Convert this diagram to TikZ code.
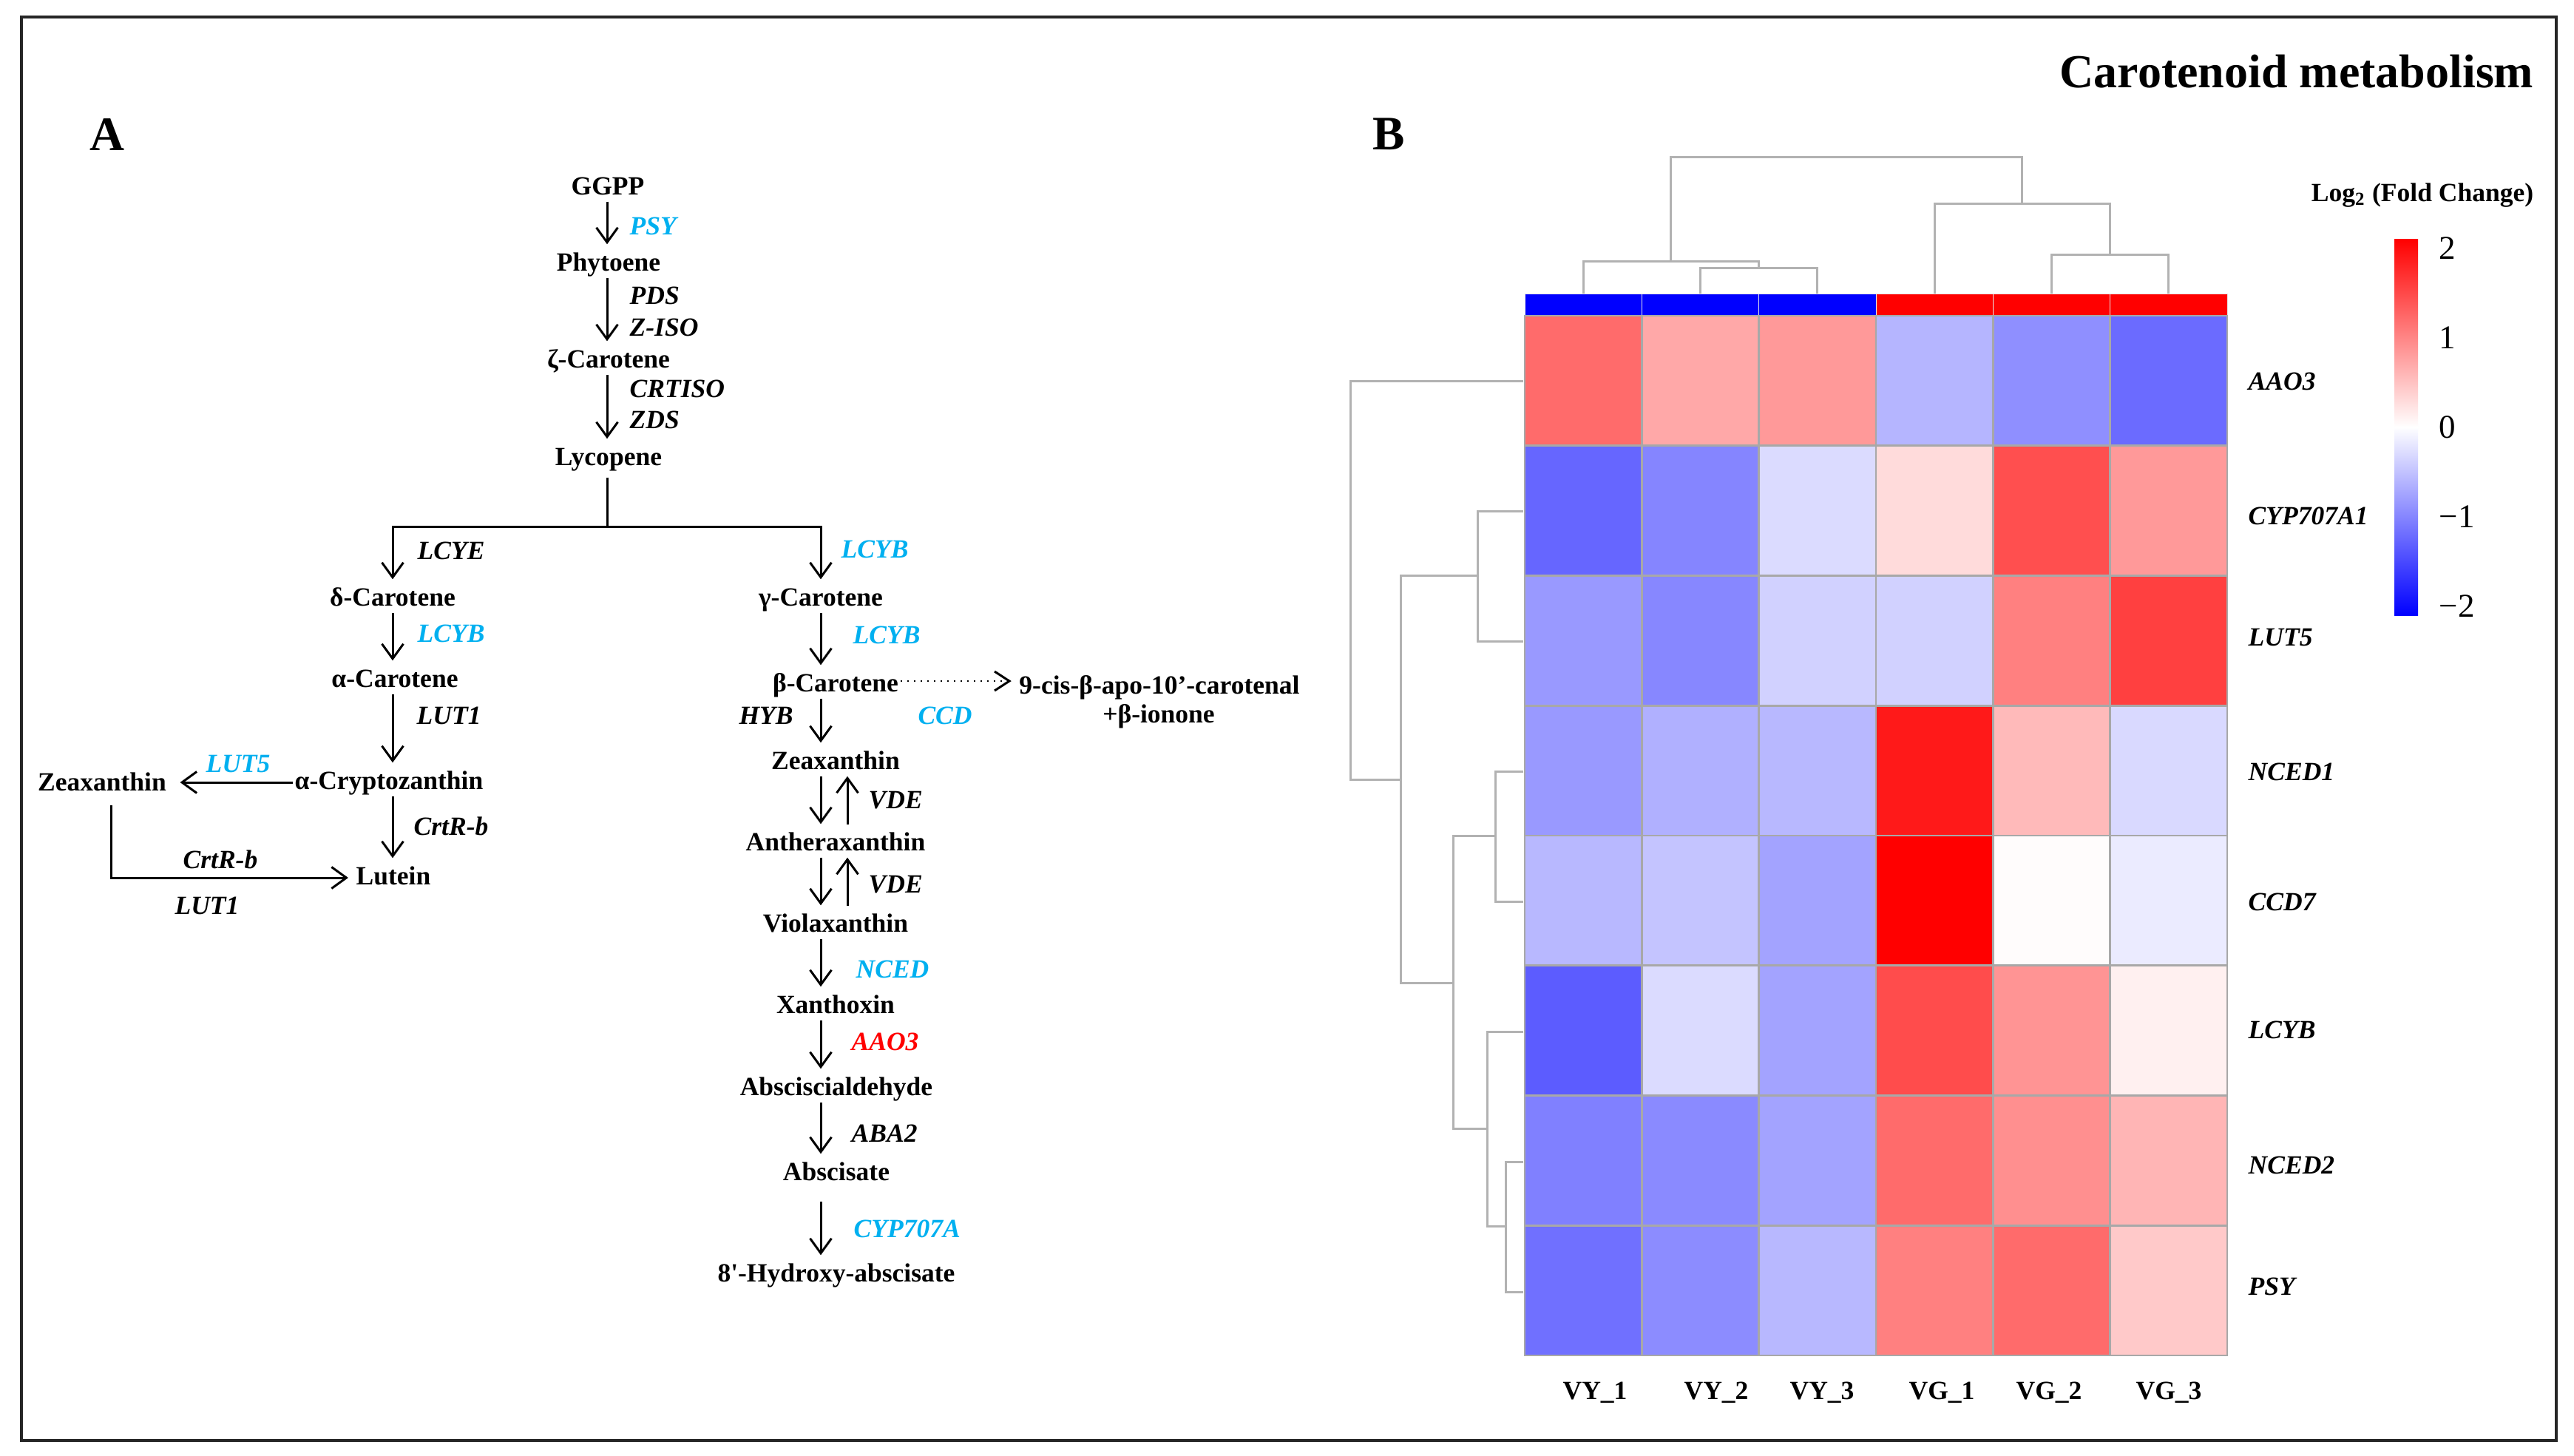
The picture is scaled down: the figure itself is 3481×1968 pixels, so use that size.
\documentclass[tikz,border=0pt]{standalone}
\usepackage{fontspec}
\setmainfont{Liberation Serif}
\usetikzlibrary{arrows.meta}
\definecolor{cyanG}{RGB}{0,176,240}
\definecolor{dendro}{RGB}{178,178,178}
\definecolor{hmgrid}{RGB}{168,168,168}
\newcommand{\metfont}{\fontsize{10.1}{12}\selectfont\bfseries}
\newcommand{\genefont}{\fontsize{10.1}{12}\selectfont\bfseries\itshape}
\begin{document}
\begin{tikzpicture}[x=0.01cm,y=-0.01cm,
  met/.style={font=\metfont, anchor=base, inner sep=0.02cm, text height=0.25cm, text depth=0.07cm},
  gene/.style={font=\genefont, anchor=base west, inner sep=0},
  genec/.style={font=\genefont, anchor=base, inner sep=0},
  arr/.style={draw, line width=0.03cm, shorten >=0.08cm, -{Straight Barb[length=0.2cm, width=0.29cm, line width=0.03cm]}},
  upar/.style={draw, line width=0.03cm, shorten <=0.07cm, -{Straight Barb[length=0.2cm, width=0.29cm, line width=0.03cm]}},
  dotarr/.style={draw, line width=0.02cm, dotted, shorten >=0.08cm, -{Straight Barb[length=0.2cm, width=0.26cm, line width=0.03cm, sep=0pt]}},
  plain/.style={draw, line width=0.03cm},
  dg/.style={draw=dendro, line width=0.03cm},
  collab/.style={font=\metfont, anchor=base, inner sep=0},
  rowlab/.style={font=\genefont, anchor=base west, inner sep=0},
  tick/.style={font=\fontsize{12.8}{14}\selectfont, anchor=west, inner sep=0}]
\useasboundingbox (0,0) rectangle (3481,1968);
\fill[white] (0,0) rectangle (3481,1968);
\draw[line width=0.04cm, black!85] (29,23) rectangle (3457,1948);

% panel labels and title
\node[font=\fontsize{18.5}{20}\selectfont\bfseries, anchor=base west, inner sep=0] (labA) at (121,203) {A};
\node[font=\fontsize{18.5}{20}\selectfont\bfseries, anchor=base west, inner sep=0] (labB) at (1856,202) {B};
\node[font=\fontsize{18.2}{20}\selectfont\bfseries, anchor=base east, inner sep=0] (title) at (3427,118) {Carotenoid metabolism};

% column positions
\coordinate (cA) at (821,0);
\coordinate (cL) at (531,0);
\coordinate (cR) at (1110,0);
\coordinate (cR2) at (1146,0);
\coordinate (cZ) at (150,0);
\coordinate (brM) at (821,712);

% metabolites
\node[met] (ggpp) at (822,263) {GGPP};
\node[met] (phy) at (823,366) {Phytoene};
\node[met] (zeta) at (823,497) {ζ-Carotene};
\node[met] (lyc) at (823,629) {Lycopene};
\node[met] (delta) at (531,819) {δ-Carotene};
\node[met] (alpha) at (534,929) {α-Carotene};
\node[met] (acry) at (526,1067) {α-Cryptozanthin};
\node[met] (zeaL) at (138,1069) {Zeaxanthin};
\node[met] (lut) at (532,1196) {Lutein};
\node[met] (gamma) at (1110,819) {γ-Carotene};
\node[met] (beta) at (1130,935) {β-Carotene};
\node[met] (apo) at (1568,938) {9-cis-β-apo-10’-carotenal};
\node[met] (ion) at (1567,977) {+β-ionone};
\node[met] (zeaR) at (1130,1040) {Zeaxanthin};
\node[met] (anth) at (1130,1150) {Antheraxanthin};
\node[met] (viola) at (1130,1260) {Violaxanthin};
\node[met] (xan) at (1130,1370) {Xanthoxin};
\node[met] (ald) at (1131,1481) {Absciscialdehyde};
\node[met] (absc) at (1131,1596) {Abscisate};
\node[met] (hyd) at (1131,1733) {8\textquotesingle-Hydroxy-abscisate};

% genes
\node[gene, text=cyanG] (gPSY) at (851,317) {PSY};
\node[gene] (gPDS) at (851,411) {PDS};
\node[gene] (gZISO) at (851,454) {Z-ISO};
\node[gene] (gCRTISO) at (851,537) {CRTISO};
\node[gene] (gZDS) at (851,579) {ZDS};
\node[gene] (gLCYE) at (564,756) {LCYE};
\node[gene, text=cyanG] (gLCYBa) at (564,868) {LCYB};
\node[gene] (gLUT1a) at (563,979) {LUT1};
\node[genec, text=cyanG] (gLUT5) at (322,1044) {LUT5};
\node[gene] (gCrtRa) at (559,1129) {CrtR-b};
\node[genec] (gCrtRb) at (298,1174) {CrtR-b};
\node[genec] (gLUT1b) at (280,1236) {LUT1};
\node[gene, text=cyanG] (gLCYBb) at (1137,754) {LCYB};
\node[gene, text=cyanG] (gLCYBc) at (1153,870) {LCYB};
\node[genec] (gHYB) at (1036,979) {HYB};
\node[genec, text=cyanG] (gCCD) at (1278,979) {CCD};
\node[gene] (gVDEa) at (1174,1093) {VDE};
\node[gene] (gVDEb) at (1174,1207) {VDE};
\node[gene, text=cyanG] (gNCED) at (1157,1322) {NCED};
\node[gene, text=red] (gAAO3) at (1151,1420) {AAO3};
\node[gene] (gABA2) at (1151,1544) {ABA2};
\node[gene, text=cyanG] (gCYP) at (1154,1673) {CYP707A};

% pathway connectors
\draw[arr] (ggpp.south -| cA) -- (phy.north -| cA);
\draw[arr] (phy.south -| cA) -- (zeta.north -| cA);
\draw[arr] (zeta.south -| cA) -- (lyc.north -| cA);
\draw[plain, shorten <=0.07cm] (lyc.south -| cA) -- (brM);
\draw[arr] (brM) -| (delta.north -| cL);
\draw[arr] (brM) -| (gamma.north -| cR);
\draw[arr] (delta.south -| cL) -- (alpha.north -| cL);
\draw[arr] (alpha.south -| cL) -- (acry.north -| cL);
\draw[arr] (acry.south -| cL) -- (lut.north -| cL);
\draw[arr, shorten >=0.16cm] (acry.west) -- (acry.west -| zeaL.east);
\draw[arr, shorten <=0.1cm] (zeaL.south -| cZ) |- (lut.west);
\draw[arr] (gamma.south -| cR) -- (beta.north -| cR);
\draw[dotarr] ([yshift=0.05cm]beta.east) -- ([yshift=0.05cm]beta.east -| apo.west);
\draw[arr] (beta.south -| cR) -- (zeaR.north -| cR);
\draw[arr] (zeaR.south -| cR) -- (anth.north -| cR);
\draw[upar] (anth.north -| cR2) -- (zeaR.south -| cR2);
\draw[arr] (anth.south -| cR) -- (viola.north -| cR);
\draw[upar] (viola.north -| cR2) -- (anth.south -| cR2);
\draw[arr] (viola.south -| cR) -- (xan.north -| cR);
\draw[arr] (xan.south -| cR) -- (ald.north -| cR);
\draw[arr] (ald.south -| cR) -- (absc.north -| cR);
\draw[arr, shorten <=0.19cm] (absc.south -| cR) -- (hyd.north -| cR);

% heatmap annotation bar
\foreach \cc [count=\ki from 0] in {blue,blue,blue,red,red,red}
  \filldraw[fill=\cc, draw=white!80!gray, line width=0.01cm] ({2062+\ki*158.33},397) rectangle ++(158.33,30);

% heatmap cells
\foreach \rowlist [count=\ri from 0] in {
 {red!58,red!34,red!40,blue!29,blue!44,blue!58},
 {blue!60,blue!48,blue!14,red!14,red!69,red!40},
 {blue!40,blue!47,blue!18,blue!18,red!50,red!75},
 {blue!40,blue!31,blue!28,red!90,red!27,blue!15},
 {blue!28,blue!23,blue!36,red!100,red!1,blue!8},
 {blue!64,blue!14,blue!36,red!70,red!42,red!6},
 {blue!50,blue!46,blue!36,red!58,red!44,red!29},
 {blue!56,blue!45,blue!28,red!50,red!58,red!21}}
{\foreach \cc [count=\ki from 0] in \rowlist {
  \filldraw[fill=\cc!white, draw=hmgrid, line width=0.028cm] ({2062+\ki*158.33},{427+\ri*175.75}) rectangle ++(158.33,175.75);
}}

% column dendrogram
\draw[dg] (2259,353) -- (2259,212) -- (2734,212) -- (2734,275);
\draw[dg] (2141,397) -- (2141,353) -- (2378,353) -- (2378,362);
\draw[dg] (2299,397) -- (2299,362) -- (2457,362) -- (2457,397);
\draw[dg] (2616,397) -- (2616,275) -- (2853,275) -- (2853,344);
\draw[dg] (2774,397) -- (2774,344) -- (2932,344) -- (2932,397);

% row dendrogram
\draw[dg] (2060,515) -- (1826,515) -- (1826,1054) -- (1894,1054);
\draw[dg] (1998,778) -- (1894,778) -- (1894,1329) -- (1965,1329);
\draw[dg] (2060,691) -- (1998,691) -- (1998,867) -- (2060,867);
\draw[dg] (2022,1130) -- (1965,1130) -- (1965,1526) -- (2011,1526);
\draw[dg] (2060,1043) -- (2022,1043) -- (2022,1219) -- (2060,1219);
\draw[dg] (2060,1395) -- (2011,1395) -- (2011,1658) -- (2036,1658);
\draw[dg] (2060,1571) -- (2036,1571) -- (2036,1747) -- (2060,1747);

% row labels
\node[rowlab] (rAAO3) at (3040,527) {AAO3};
\node[rowlab] (rCYP) at (3040,709) {CYP707A1};
\node[rowlab] (rLUT5) at (3040,873) {LUT5};
\node[rowlab] (rNCED1) at (3040,1055) {NCED1};
\node[rowlab] (rCCD7) at (3040,1231) {CCD7};
\node[rowlab] (rLCYB) at (3040,1404) {LCYB};
\node[rowlab] (rNCED2) at (3040,1587) {NCED2};
\node[rowlab] (rPSY) at (3040,1751) {PSY};

% column labels
\node[collab] (cVY1) at (2157,1892) {VY\_1};
\node[collab] (cVY2) at (2321,1892) {VY\_2};
\node[collab] (cVY3) at (2464,1892) {VY\_3};
\node[collab] (cVG1) at (2626,1892) {VG\_1};
\node[collab] (cVG2) at (2771,1892) {VG\_2};
\node[collab] (cVG3) at (2933,1892) {VG\_3};

% legend
\node[font=\metfont, anchor=base, inner sep=0] (legT) at (3276,272) {Log\textsubscript{2} (Fold Change)};
\shade[bottom color=white, top color=red] (3238,323) rectangle (3270,577.5);
\shade[top color=white, bottom color=blue] (3238,577.5) rectangle (3270,832);
\node[tick] (t2) at (3298,336) {2};
\node[tick] (t1) at (3298,457) {1};
\node[tick] (t0) at (3298,578) {0};
\node[tick] (tm1) at (3298,699) {−1};
\node[tick] (tm2) at (3298,820) {−2};
\end{tikzpicture}
\end{document}
